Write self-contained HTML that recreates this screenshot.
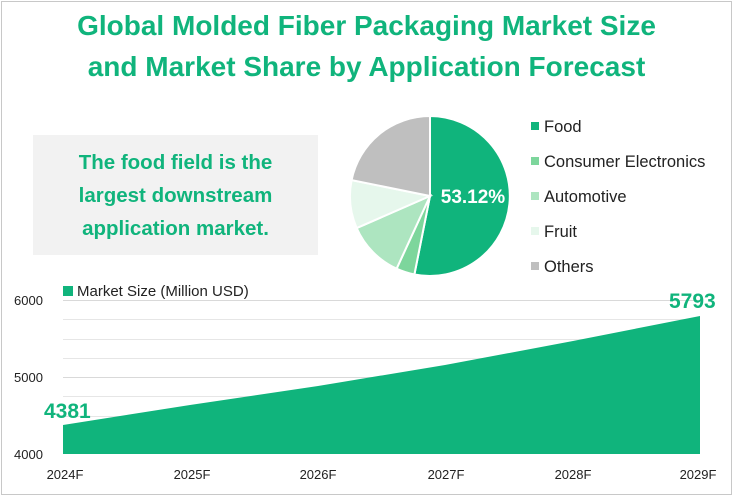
<!DOCTYPE html>
<html><head><meta charset="utf-8"><style>
body{margin:0;background:#fff;}
.w{position:relative;width:733px;height:496px;overflow:hidden;font-family:"Liberation Sans",sans-serif;}
.frame{position:absolute;left:1px;top:1px;width:729px;height:492px;border:1px solid #c8c8c8;}
.t{position:absolute;left:0;width:733px;text-align:center;color:#10b47c;font-weight:bold;font-size:28px;}
.box{position:absolute;left:33px;top:135px;width:285px;height:120px;background:#f2f2f2;color:#10b47c;font-weight:bold;font-size:20.5px;text-align:center;line-height:33px;padding-top:11px;box-sizing:border-box;}
</style></head><body><div class="w">
<div class="frame"></div>
<div class="t" style="top:10px">Global Molded Fiber Packaging Market Size</div>
<div class="t" style="top:51px">and Market Share by Application Forecast</div>
<div class="box">The food field is the<br>largest downstream<br>application market.</div>
<svg width="733" height="496" style="position:absolute;left:0;top:0" font-family="Liberation Sans, sans-serif">
<g stroke="#fff" stroke-width="2">
<path d="M430,196 L430,116 A80,80 0 1 1 414.4,274.5 Z" fill="#10b47c"/>
<path d="M430,196 L414.4,274.5 A80,80 0 0 1 396.6,268.7 Z" fill="#7dd69c"/>
<path d="M430,196 L396.6,268.7 A80,80 0 0 1 356.7,228.1 Z" fill="#ade5c0"/>
<path d="M430,196 L356.7,228.1 A80,80 0 0 1 351.6,180.1 Z" fill="#e6f7ec"/>
<path d="M430,196 L351.6,180.1 A80,80 0 0 1 430,116 Z" fill="#bfbfbf"/>
</g>
<text x="473" y="203" fill="#fff" font-weight="bold" font-size="19" text-anchor="middle">53.12%</text>
<g font-size="16.5" fill="#222">
<rect x="531" y="122" width="8" height="8" fill="#10b47c"/><text x="544" y="132">Food</text>
<rect x="531" y="157" width="8" height="8" fill="#7dd69c"/><text x="544" y="167">Consumer Electronics</text>
<rect x="531" y="192" width="8" height="8" fill="#ade5c0"/><text x="544" y="202">Automotive</text>
<rect x="531" y="227" width="8" height="8" fill="#e6f7ec"/><text x="544" y="237">Fruit</text>
<rect x="531" y="262" width="8" height="8" fill="#bfbfbf"/><text x="544" y="272">Others</text>
</g>
<g stroke="#e6e6e6" stroke-width="1">
<line x1="63" x2="700" y1="300.5" y2="300.5" stroke="#d9d9d9"/>
<line x1="63" x2="700" y1="319.5" y2="319.5"/>
<line x1="63" x2="700" y1="339.5" y2="339.5"/>
<line x1="63" x2="700" y1="358.5" y2="358.5"/>
<line x1="63" x2="700" y1="377.5" y2="377.5" stroke="#d9d9d9"/>
<line x1="63" x2="700" y1="396.5" y2="396.5"/>
<line x1="63" x2="700" y1="416.5" y2="416.5"/>
<line x1="63" x2="700" y1="435.5" y2="435.5"/>
</g>
<path d="M63,425 L190,405 L318,386 L445,365 L573,341 L700,316 L700,454 L63,454 Z" fill="#10b47c"/>
<g font-size="13" fill="#222">
<text x="14" y="305">6000</text><text x="14" y="382">5000</text><text x="14" y="459">4000</text>
<g text-anchor="middle"><text x="65" y="479">2024F</text><text x="192" y="479">2025F</text><text x="318" y="479">2026F</text><text x="446" y="479">2027F</text><text x="573" y="479">2028F</text><text x="698" y="479">2029F</text></g>
</g>
<rect x="63" y="286" width="10" height="10" fill="#10b47c"/>
<text x="77" y="296" font-size="15" fill="#222">Market Size (Million USD)</text>
<text x="44" y="418" font-size="21" font-weight="bold" fill="#10b47c">4381</text>
<text x="669" y="308" font-size="21" font-weight="bold" fill="#10b47c">5793</text>
</svg>
</div></body></html>
